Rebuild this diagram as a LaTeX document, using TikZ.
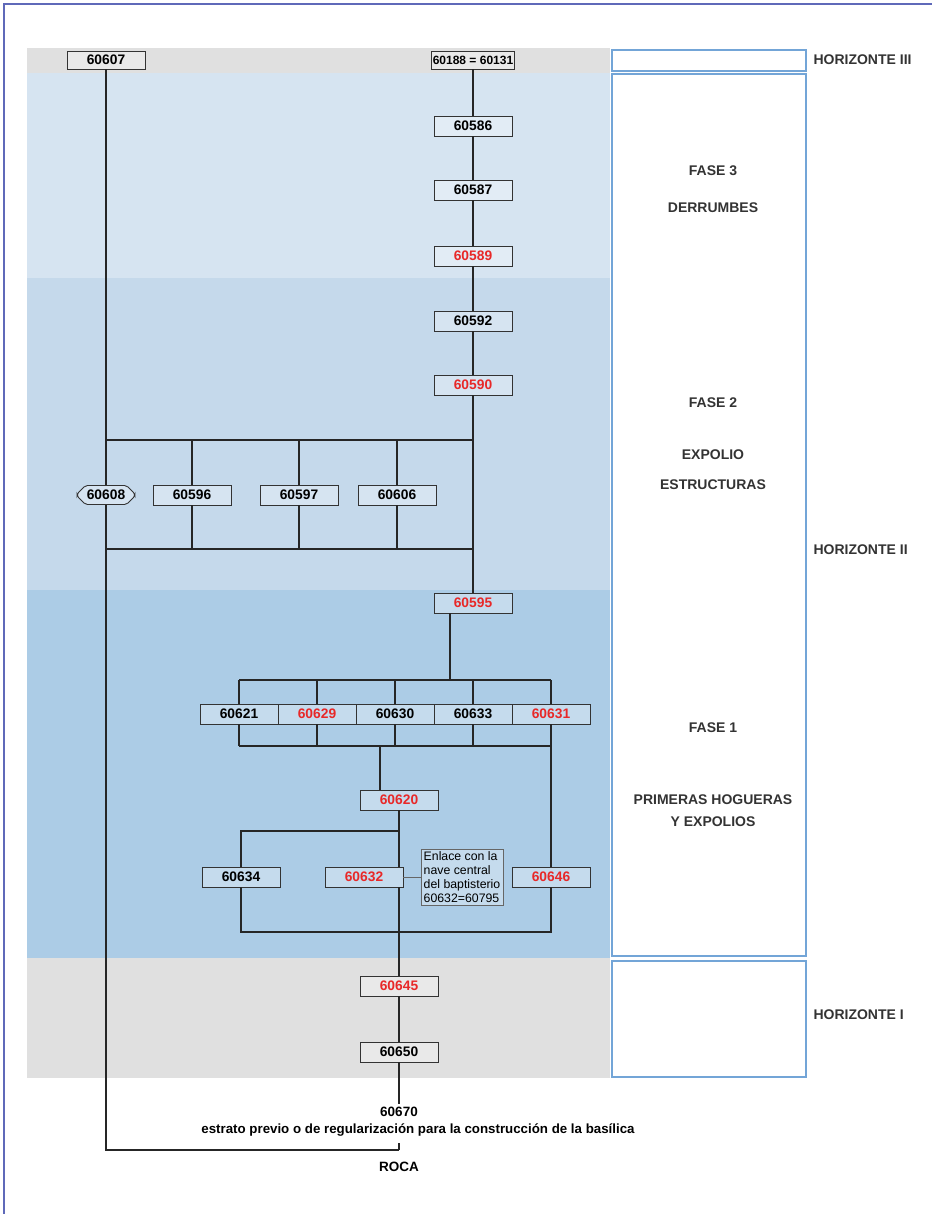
\documentclass[tikz,border=0pt]{standalone}
\usepackage{fontspec}
\setmainfont{Liberation Sans}
\usetikzlibrary{shapes.misc}
\definecolor{marcopag}{RGB}{95,105,185}
\definecolor{hgris}{RGB}{224,224,224}
\definecolor{fase3}{RGB}{214,228,241}
\definecolor{fase2}{RGB}{197,217,235}
\definecolor{fase1}{RGB}{172,204,230}
\definecolor{bordeazul}{RGB}{115,165,215}
\definecolor{uered}{RGB}{232,40,40}

\begin{document}
\begin{tikzpicture}[x=1pt,y=-1pt,
    ue/.style={draw=black!80, line width=0.9pt, fill=white, fill opacity=0.3, text opacity=1,
      minimum width=78pt, minimum height=20pt, inner sep=1pt, font=\fontsize{13.8}{14}\selectfont\bfseries},
    uer/.style={ue, text=uered},
    link/.style={line width=1.2pt, black!85},
    etapa/.style={font=\fontsize{14}{22}\selectfont\bfseries, text=black!80, align=center},
    marco/.style={draw=bordeazul, line width=1.3pt}
  ]
  \useasboundingbox (0,0) rectangle (932,1214);
  \draw[marcopag, line width=1.5pt] (4,1214) -- (4,4) -- (932,4);

  % bandas
  \fill[hgris] (27,48) rectangle (610,73);
  \fill[fase3] (27,73) rectangle (610,278);
  \fill[fase2] (27,278) rectangle (610,590);
  \fill[fase1] (27,590) rectangle (610,958);
  \fill[hgris] (27,958) rectangle (610,1078);
  \draw[marco] (612,50) rectangle (806,71);
  \draw[marco] (612,74) rectangle (806,956);
  \draw[marco] (612,961) rectangle (806,1077);

  % etiquetas
  \node[etapa, anchor=west] (h3) at (810,60) {HORIZONTE III};
  \node[etapa, anchor=west] (h2) at (810,550) {HORIZONTE II};
  \node[etapa, anchor=west] (h1) at (810,1015) {HORIZONTE I};
  \node[etapa] (f3) at (713,171) {FASE 3};
  \node[etapa] (f3b) at (713,208) {DERRUMBES};
  \node[etapa] (f2) at (713,403) {FASE 2};
  \node[etapa] (f2b) at (713,455) {EXPOLIO};
  \node[etapa] (f2c) at (713,485) {ESTRUCTURAS};
  \node[etapa] (f1) at (713,728) {FASE 1};
  \node[etapa] (f1b) at (713,811) {PRIMERAS HOGUERAS\\Y EXPOLIOS};

  % unidades
  \node[ue, minimum height=18pt] (u60607) at (106,60) {60607};
  \node[ue, minimum height=18pt, font=\fontsize{12}{12}\selectfont\bfseries] (u60188) at (473,60) {60188 = 60131};
  \node[ue] (u60586) at (473,126) {60586};
  \node[ue] (u60587) at (473,190) {60587};
  \node[uer] (u60589) at (473,256) {60589};
  \node[ue] (u60592) at (473,321) {60592};
  \node[uer] (u60590) at (473,385) {60590};
  \node[ue, chamfered rectangle, chamfered rectangle xsep=5pt, rounded corners=2pt, minimum width=58pt, minimum height=19pt] (u60608) at (106,495) {60608};
  \node[ue] (u60596) at (192,495) {60596};
  \node[ue] (u60597) at (299,495) {60597};
  \node[ue] (u60606) at (397,495) {60606};
  \node[uer] (u60595) at (473,603) {60595};
  \node[ue] (u60621) at (239,714) {60621};
  \node[uer] (u60629) at (317,714) {60629};
  \node[ue] (u60630) at (395,714) {60630};
  \node[ue] (u60633) at (473,714) {60633};
  \node[uer] (u60631) at (551,714) {60631};
  \node[uer] (u60620) at (399,800) {60620};
  \node[ue] (u60634) at (241,877) {60634};
  \node[uer] (u60632) at (364,877) {60632};
  \node[uer] (u60646) at (551,877) {60646};
  \node[draw=black!60, fill=white, fill opacity=0.3, text opacity=1, align=left, inner sep=2.5pt,
    font=\fontsize{12.3}{13.8}\selectfont] (nota) at (462,877) {Enlace con la\\nave central\\del baptisterio\\60632=60795};
  \node[uer] (u60645) at (399,986) {60645};
  \node[ue] (u60650) at (399,1052) {60650};
  \node[font=\fontsize{13.5}{14}\selectfont\bfseries] (e60670) at (399,1112) {60670};
  \node[font=\fontsize{13.3}{14}\selectfont\bfseries] (previo) at (418,1130) {estrato previo o de regularización para la construcción de la basílica};
  \node[font=\fontsize{13.5}{14}\selectfont\bfseries] (roca) at (399,1167) {ROCA};

  % conexiones
  \coordinate (b2a) at (106,440);
  \coordinate (b2b) at (106,549);
  \coordinate (esq) at (106,1150);
  \coordinate (base) at (399,1150);
  \coordinate (tic) at (399,1143);
  \draw[link] (u60188) -- (u60586) -- (u60587) -- (u60589) -- (u60592) -- (u60590) -- (u60595);
  \draw[link] (b2a) -- (b2a -| u60590);
  \draw[link] (b2b) -- (b2b -| u60590);
  \foreach \u in {60596,60597,60606}
    \draw[link] (u\u) -- (u\u |- b2a) (u\u) -- (u\u |- b2b);
  \draw[link] (u60607) -- (u60608);
  \draw[link] (u60608) -- (esq) -- (base);
  \draw[link] (tic) -- (base);

  \coordinate (b1a) at (450,680);
  \coordinate (b1b) at (380,746);
  \coordinate (b1c) at (399,831);
  \coordinate (b1d) at (399,932);
  \draw[link] (u60595.south -| b1a) -- (b1a);
  \draw[link] (u60621 |- b1a) -- (u60631 |- b1a);
  \draw[link] (u60621 |- b1b) -- (u60631 |- b1b);
  \foreach \u in {60621,60629,60630,60633,60631}
    \draw[link] (u\u) -- (u\u |- b1a) (u\u) -- (u\u |- b1b);
  \draw[link] (b1b) -- (b1b |- u60620.north);
  \draw[link] (u60620) -- (u60620 |- u60632.north);
  \draw[link] (b1c) -- (b1c -| u60634) -- (u60634);
  \draw[link] (u60631) -- (u60646);
  \draw[link] (u60634) -- (u60634 |- b1d) -- (u60646 |- b1d) -- (u60646);
  \draw[link] (u60620 |- u60632.south) -- (u60645);
  \draw[link] (u60645) -- (u60650) -- (e60670);
  \draw[line width=0.8pt, black!60] (u60632) -- (nota);
\end{tikzpicture}
\end{document}
